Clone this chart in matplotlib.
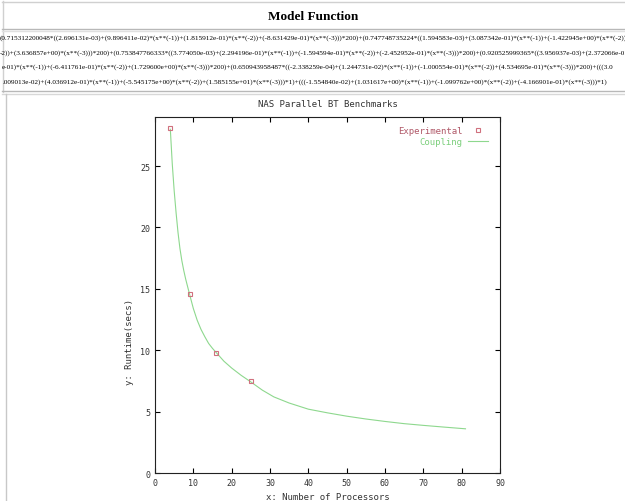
#!/usr/bin/env python3
"""Web page snapshot: model function table + gnuplot NAS BT benchmark plot."""
import matplotlib

matplotlib.use("Agg")
import matplotlib.pyplot as plt
from matplotlib.lines import Line2D

W, H = 625, 502

# --- data ---
header = "Model Function"
formula_rows = [
    "(0.715312200048*((2.696131e-03)+(9.896411e-02)*(x**(-1))+(1.815912e-01)*(x**(-2))+(-8.631429e-01)*(x**(-3)))*200)+(0.747748735224*((1.594583e-03)+(3.087342e-01)*(x**(-1))+(-1.422945e+00)*(x**(-2))",
    "-2))+(3.636857e+00)*(x**(-3)))*200)+(0.753847766333*((3.774050e-03)+(2.294196e-01)*(x**(-1))+(-1.594594e-01)*(x**(-2))+(-2.452952e-01)*(x**(-3)))*200)+(0.920525999365*((3.956937e-03)+(2.372066e-01)*(x**(-1))",
    "e-01)*(x**(-1))+(-6.411761e-01)*(x**(-2))+(1.729600e+00)*(x**(-3)))*200)+(0.650943958487*((-2.338259e-04)+(1.244731e-02)*(x**(-1))+(-1.000554e-01)*(x**(-2))+(4.534695e-01)*(x**(-3)))*200)+(((3.0",
    ".009013e-02)+(4.036912e-01)*(x**(-1))+(-5.545175e+00)*(x**(-2))+(1.585155e+01)*(x**(-3)))*1)+(((-1.554840e-02)+(1.031617e+00)*(x**(-1))+(-1.099762e+00)*(x**(-2))+(-4.166901e-01)*(x**(-3)))*1)",
]

exp_procs = [4, 9, 16, 25]
exp_runtime = [28.07, 14.58, 9.80, 7.49]

fit_procs = [4, 4.5, 5, 5.5, 6, 6.5, 7, 7.5, 8, 9, 10, 11, 12, 13, 14, 15, 16,
             18, 20, 22.5, 25, 28, 31, 35, 40, 45, 50, 55, 60, 65, 70, 75, 81]
fit_runtime = [28.0, 25.2, 23.0, 21.2, 19.6, 18.3, 17.3, 16.5, 15.8, 14.58,
               13.4, 12.45, 11.7, 11.1, 10.55, 10.15, 9.8, 9.1, 8.55, 7.95,
               7.42, 6.75, 6.2, 5.7, 5.2, 4.9, 4.63, 4.4, 4.2, 4.02, 3.88,
               3.75, 3.6]

x_ticks = list(range(0, 91, 10))
y_ticks = list(range(0, 26, 5))


def fx(px):
    return px / W


def fy(py):
    return 1 - py / H


fig = plt.figure(figsize=(W / 100, H / 100), dpi=100)
fig.patch.set_facecolor("white")


def hline(y, x0, x1, color="#c0c0c0", lw=1.0):
    fig.add_artist(Line2D([fx(x0), fx(x1)], [fy(y), fy(y)],
                          transform=fig.transFigure, color=color, lw=lw))


def vline(x, y0, y1, color="#c0c0c0", lw=1.0):
    fig.add_artist(Line2D([fx(x), fx(x)], [fy(y0), fy(y1)],
                          transform=fig.transFigure, color=color, lw=lw))


# table borders
hline(2.5, 2, 625, "#d0d0d0")
vline(2.5, 2, 93, "#d0d0d0")
hline(29.5, 2, 625, "#b8b8b8")
hline(31.5, 2, 625, "#e0e0e0")
hline(91.5, 2, 625, "#b8b8b8")
hline(94.5, 2, 625, "#d8d8d8")
vline(5.5, 95, 502, "#c8c8c8")

fig.text(fx(313), fy(16.5), header, ha="center", va="center",
         fontsize=9.5, fontweight="bold", family="Liberation Serif")

# size the formula font so the last row spans what it does on the page
probe = fig.text(0, 0, formula_rows[3], fontsize=10, family="Liberation Serif")
fig.canvas.draw()
row_size = 10 * 609 / probe.get_window_extent().width
probe.remove()

row_y = [38.5, 53, 67.5, 82]
row_x = [0, 0, 2, 3]
for txt, y, x in zip(formula_rows, row_y, row_x):
    fig.text(fx(x), fy(y), txt, ha="left", va="center",
             fontsize=row_size, family="Liberation Serif", color="#000000")

# --- gnuplot-style chart ---
mono = "DejaVu Sans Mono"
ax = fig.add_axes([fx(155), fy(474), fx(500) - fx(155), fy(118) - fy(474)])
ax.plot(fit_procs, fit_runtime, color="#8ed88e", lw=0.8, label="Coupling")
ax.plot(exp_procs, exp_runtime, ls="none", marker="s", ms=3.2, mfc="none",
        mec="#d0707e", mew=0.8, label="Experimental")

ax.set_xlim(0, 90)
ax.set_ylim(0, 29)
ax.set_xticks(x_ticks)
ax.set_yticks(y_ticks)
ax.tick_params(direction="in", length=3.5, width=0.8, top=True, right=True,
               labelsize=6, labelcolor="#333333", pad=3.5)
for lab in ax.get_xticklabels() + ax.get_yticklabels():
    lab.set_family(mono)
for sp in ax.spines.values():
    sp.set_linewidth(0.8)
    sp.set_color("#222222")

ax.set_title("NAS Parallel BT Benchmarks", fontsize=6.5, family=mono,
             color="#333333", pad=8)
ax.set_xlabel("x: Number of Processors", fontsize=6.5, family=mono,
              color="#333333", labelpad=4)
ax.set_ylabel("y: Runtime(secs)", fontsize=6.5, family=mono, color="#333333")
ax.yaxis.set_label_coords(-0.06, 0.37)

handles, labels = ax.get_legend_handles_labels()
leg = ax.legend(handles[::-1], labels[::-1], loc="upper right",
                bbox_to_anchor=(0.985, 0.994), markerfirst=False,
                frameon=False, numpoints=1, handlelength=2.2,
                handletextpad=0.55, labelspacing=0.15, borderpad=0.3,
                prop={"family": mono, "size": 6.5},
                labelcolor=["#b05868", "#7ccf7c"])

fig.savefig("out.png", dpi=100, facecolor="white")
